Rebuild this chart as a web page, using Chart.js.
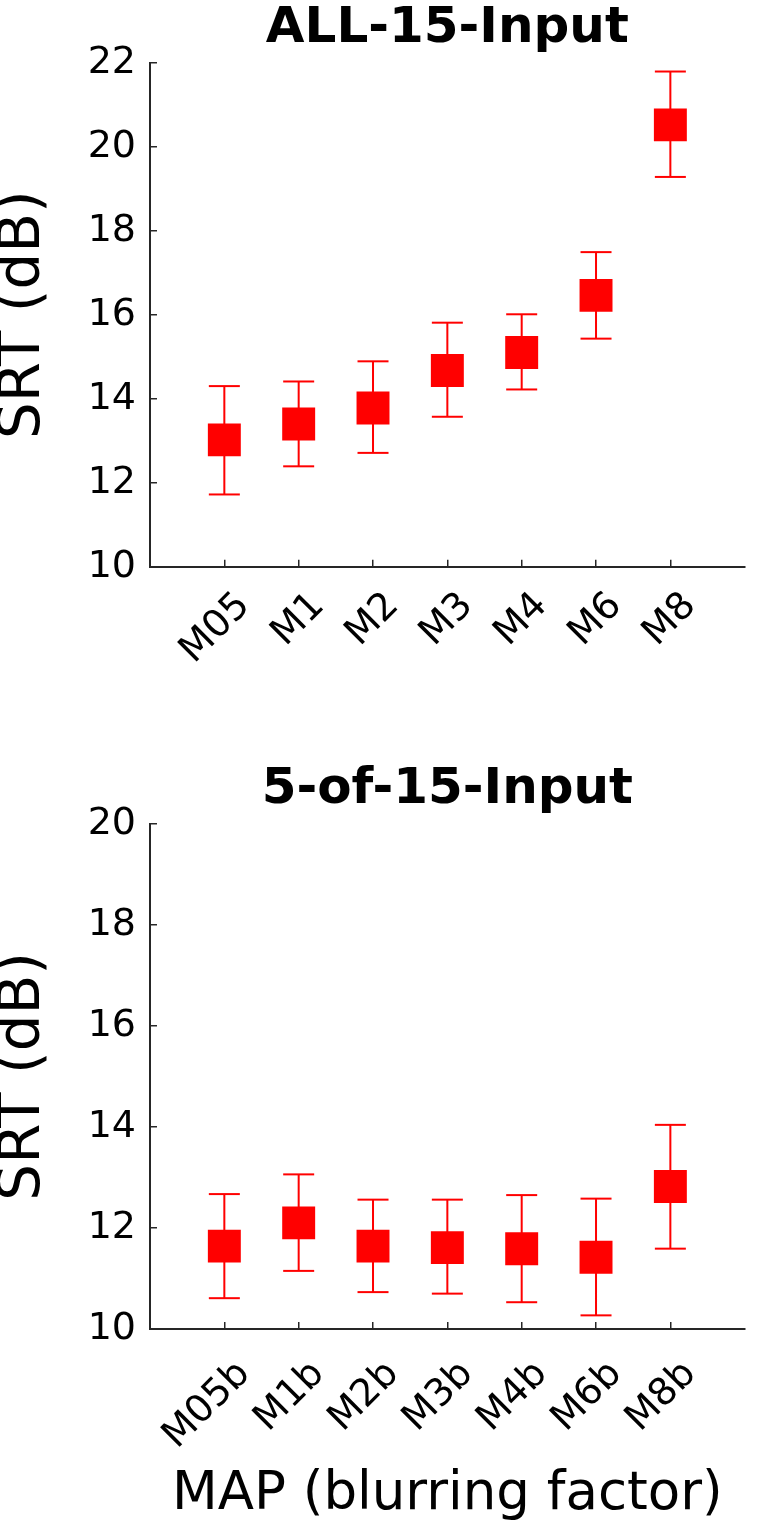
<!DOCTYPE html>
<html>
<head>
<meta charset="utf-8">
<script src="https://cdn.jsdelivr.net/npm/chart.js@4.4.1/dist/chart.umd.min.js"></script>
<style>
  html, body { margin: 0; padding: 0; background: #fff; }
  canvas { display: block; }
</style>
</head>
<body>
<canvas id="topChart" width="768" height="761"></canvas>
<canvas id="bottomChart" width="768" height="771"></canvas>
<script>
// ALL-15-Input
const topLabels = ['M05', 'M1', 'M2', 'M3', 'M4', 'M6', 'M8'];
const topMean = [13.02, 13.40, 13.78, 14.67, 15.10, 16.46, 20.52];
const topUpper = [14.30, 14.41, 14.89, 15.81, 16.01, 17.49, 21.79];
const topLower = [11.72, 12.39, 12.71, 13.57, 14.22, 15.43, 19.28];
const topTicks = [10, 12, 14, 16, 18, 20, 22];

// 5-of-15-Input
const bottomLabels = ['M05b', 'M1b', 'M2b', 'M3b', 'M4b', 'M6b', 'M8b'];
const bottomMean = [11.64, 12.10, 11.64, 11.61, 11.59, 11.42, 12.82];
const bottomUpper = [12.67, 13.06, 12.56, 12.56, 12.65, 12.58, 14.04];
const bottomLower = [10.61, 11.15, 10.73, 10.70, 10.53, 10.27, 11.59];
const bottomTicks = [10, 12, 14, 16, 18, 20];

const red = '#ff0000';
const axisColor = '#262626';
const family = "'DejaVu Sans', sans-serif";

function makeChart(id, cfg) {
  const cats = cfg.labels;
  const means = cats.map((c, i) => ({x: i + 1, y: cfg.mean[i]}));
  const caps = [];
  const stems = [];
  cats.forEach((c, i) => {
    caps.push({x: i + 1, y: cfg.lower[i]}, {x: i + 1, y: cfg.upper[i]});
    stems.push({x: i + 1, y: cfg.lower[i]}, {x: i + 1, y: cfg.upper[i]}, {x: i + 1, y: null});
  });

  return new Chart(document.getElementById(id), {
    type: 'scatter',
    data: {
      datasets: [
        {
          data: means,
          pointStyle: 'rect',
          pointRadius: 23.3,
          pointBackgroundColor: red,
          pointBorderWidth: 0,
          clip: false
        },
        {
          data: caps,
          pointStyle: 'line',
          pointRadius: 15.5,
          pointBorderColor: red,
          pointBorderWidth: 2,
          clip: false
        },
        {
          data: stems,
          showLine: true,
          spanGaps: false,
          pointRadius: 0,
          borderColor: red,
          borderWidth: 2,
          clip: false
        }
      ]
    },
    options: {
      responsive: false,
      animation: false,
      devicePixelRatio: 1,
      events: [],
      layout: {padding: {left: 0, right: 3, top: 0, bottom: 0}},
      plugins: {
        legend: {display: false},
        tooltip: {enabled: false},
        title: {
          display: true,
          fullSize: false,
          text: cfg.title,
          color: '#000',
          font: {family: family, size: 50, weight: 'bold', lineHeight: 1},
          padding: {top: 4, bottom: 8.7}
        }
      },
      scales: {
        x: {
          type: 'linear',
          min: 0,
          max: 8,
          afterBuildTicks: s => { s.ticks = cats.map((c, i) => ({value: i + 1})); },
          afterFit: s => { s.height = cfg.xHeight; },
          ticks: {
            callback: v => cats[v - 1],
            autoSkip: false,
            minRotation: 45,
            maxRotation: 45,
            padding: cfg.xPad,
            labelOffset: 20,
            color: '#000',
            font: {family: family, size: 38}
          },
          grid: {drawOnChartArea: false, tickLength: -7, color: axisColor, lineWidth: 1.5},
          border: {color: axisColor, width: 2},
          title: cfg.xTitle ? {
            display: true,
            text: cfg.xTitle,
            color: '#000',
            font: {family: family, size: 53, lineHeight: 1},
            padding: {top: 0, bottom: 10}
          } : {display: false}
        },
        y: {
          min: cfg.ticks[0],
          max: cfg.ticks[cfg.ticks.length - 1],
          afterBuildTicks: s => { s.ticks = cfg.ticks.map(v => ({value: v})); },
          afterFit: s => { s.width = 150; },
          ticks: {
            padding: 21,
            color: '#000',
            font: {family: family, size: 38}
          },
          grid: {drawOnChartArea: false, tickLength: -7, color: axisColor, lineWidth: 1.5},
          border: {color: axisColor, width: 2},
          title: {
            display: true,
            text: 'SRT (dB)',
            color: '#000',
            font: {family: family, size: 58, lineHeight: 0.82},
            padding: 0
          }
        }
      }
    }
  });
}

makeChart('topChart', {
  title: 'ALL-15-Input',
  labels: topLabels,
  mean: topMean,
  upper: topUpper,
  lower: topLower,
  ticks: topTicks,
  xHeight: 194.3,
  xPad: 24
});

makeChart('bottomChart', {
  title: '5-of-15-Input',
  labels: bottomLabels,
  mean: bottomMean,
  upper: bottomUpper,
  lower: bottomLower,
  ticks: bottomTicks,
  xHeight: 203,
  xPad: 30,
  xTitle: 'MAP (blurring factor)'
});
</script>
</body>
</html>
